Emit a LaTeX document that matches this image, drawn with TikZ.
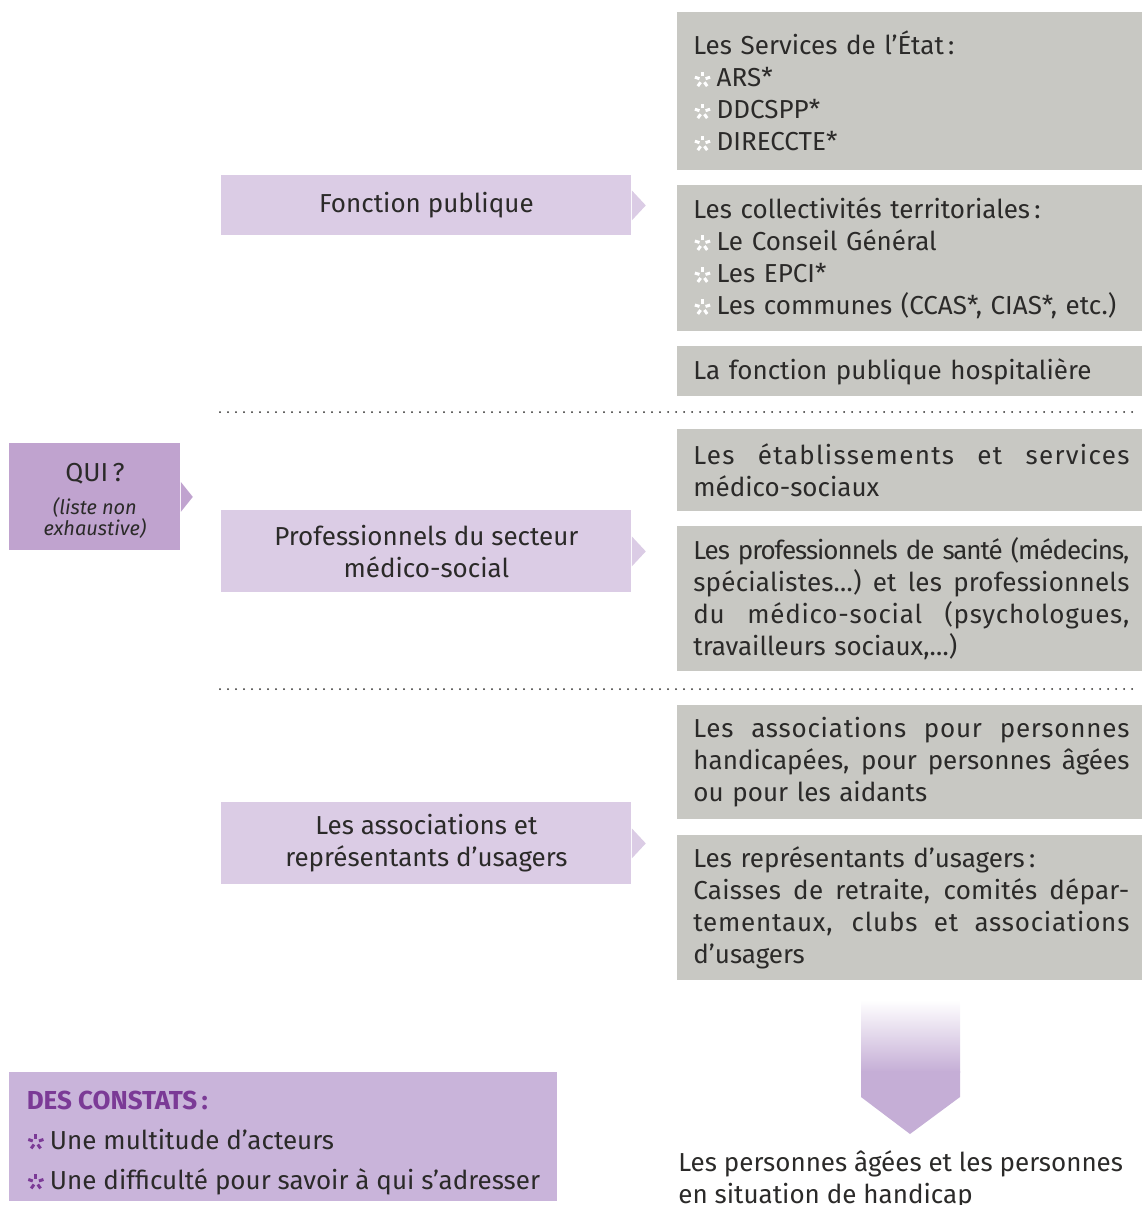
\documentclass[tikz,border=0pt]{standalone}
\usepackage{fontspec}
\setmainfont{Fira Sans}
\usetikzlibrary{calc}

\definecolor{boxgrey}{HTML}{C8C8C3}
\definecolor{lilac}{HTML}{DBCCE5}
\definecolor{quipurple}{HTML}{C0A3CF}
\definecolor{constat}{HTML}{C9B4DA}
\definecolor{titlepurple}{HTML}{7B3A96}
\definecolor{flowpurple}{HTML}{C5AED6}
\definecolor{ink}{HTML}{2B2A29}

\newlength{\colw}
\setlength{\colw}{218pt}
\newcommand{\mainsz}{\fontsize{13}{16}\selectfont}
\newcommand{\notesz}{\itshape\fontsize{10}{10.5}\selectfont}
% justified line of the right column (#1 = tracking)
\newcommand{\jline}[2][0]{\leavevmode\hbox to \colw{\addfontfeature{LetterSpace=#1}%
  \spaceskip=0.25em plus 1fil minus 0.1em\relax #2}}
% small five-petal bullet
\newcommand{\petal}[1]{\tikz[baseline=-3.6pt, x=1pt, y=1pt]{%
  \foreach \a in {90,162,234,306,378}
    \draw[#1, line width=1.5pt] (\a:1.6) -- (\a:4.0);}\hspace{2.5pt}}

\tikzset{
  grey box/.style={fill=boxgrey, text=ink, anchor=north west, text width=\colw,
    inner xsep=8pt, inner ysep=0pt, align=left, font=\mainsz},
  lilac box/.style={fill=lilac, text=ink, anchor=north west, minimum width=205pt,
    inner sep=0pt, align=center, font=\mainsz},
  dotline/.style={ink, line width=1pt, line cap=round, dash pattern=on 0pt off 4pt},
}

\begin{document}
\begin{tikzpicture}[x=0.5pt, y=-0.5pt]
  \useasboundingbox (0,0) rectangle (1141,1205);

  % right column
  \node[grey box, minimum height=79pt] (etat) at (677,12)
    {Les Services de l’État\,:\\ \petal{white}ARS*\\ \petal{white}DDCSPP*\\ \petal{white}DIRECCTE*};
  \node[grey box, minimum height=73pt] (coll) at (677,185)
    {Les collectivités territoriales\,:\\ \petal{white}Le Conseil Général\\ \petal{white}Les EPCI*\\
     \petal{white}Les communes (CCAS*, CIAS*, etc.)};
  \node[grey box, minimum height=25pt] (hosp) at (677,346)
    {La fonction publique hospitalière};
  \node[grey box, minimum height=41pt] (etab) at (677,429)
    {\jline[5]{Les établissements et services}\\ médico-sociaux};
  \node[grey box, minimum height=72.5pt] (sante) at (677,526)
    {\jline[-4]{Les professionnels de santé (médecins,}\\
     \jline[0.8]{spécialistes…) et les professionnels}\\
     \jline[3]{du médico-social (psychologues,}\\ travailleurs sociaux,…)};
  \node[grey box, minimum height=57pt] (aidant) at (677,705)
    {\jline[3]{Les associations pour personnes}\\ \jline{handicapées, pour personnes âgées}\\ ou pour les aidants};
  \node[grey box, minimum height=72.5pt] (repr) at (677,835)
    {Les représentants d’usagers\,:\\ \jline[1]{Caisses de retraite, comités dépar-}\\
     \jline[3]{tementaux, clubs et associations}\\ d’usagers};

  % middle column
  \node[lilac box, minimum height=30pt] (fonc) at (221,175) {Fonction publique};
  \node[lilac box, minimum height=41pt] (prof) at (221,510) {Professionnels du secteur\\ médico-social};
  \node[lilac box, minimum height=41pt] (asso) at (221,802) {Les associations et\\ représentants d’usagers};
  \foreach \n in {fonc,prof,asso}
    \fill[lilac] ([yshift=7.5pt]\n.east) -- ([xshift=7pt]\n.east) -- ([yshift=-7.5pt]\n.east) -- cycle;

  % left column
  \node[fill=quipurple, text=ink, anchor=north west, minimum width=85.5pt, minimum height=53.5pt,
    inner sep=0pt, align=center, font=\mainsz] (qui) at (9,443)
    {\rule{0pt}{13pt}QUI\,?\\[0.5pt] \notesz (liste non\\[-5.5pt] \notesz exhaustive)};
  \fill[quipurple] ([yshift=7.5pt]qui.east) -- ([xshift=6pt]qui.east) -- ([yshift=-7.5pt]qui.east) -- cycle;

  % separators
  \draw[dotline] (220,412) -- (1137,412);
  \draw[dotline] (220,689) -- (1137,689);

  % down arrow
  \shade[top color=white, bottom color=flowpurple] (861,1000) rectangle (960,1072);
  \fill[flowpurple] (861,1071) -- (960,1071) -- (960,1097) -- (910,1134) -- (861,1097) -- cycle;
  \node[anchor=north west, inner sep=0pt, text=ink, align=left, font=\mainsz] (public) at (678,1150)
    {Les personnes âgées et les personnes\\ en situation de handicap};

  % findings
  \node[fill=constat, text=ink, anchor=north west, minimum width=274pt, minimum height=64.5pt,
    inner xsep=8pt, inner ysep=0pt, align=left, font=\mainsz] (constats) at (9,1072)
    {\rule{0pt}{15pt}\textcolor{titlepurple}{\bfseries DES CONSTATS\,:}\\[4pt]
     \petal{titlepurple}Une multitude d’acteurs\\[4pt]
     \petal{titlepurple}Une difficulté pour savoir à qui s’adresser};
\end{tikzpicture}
\end{document}
